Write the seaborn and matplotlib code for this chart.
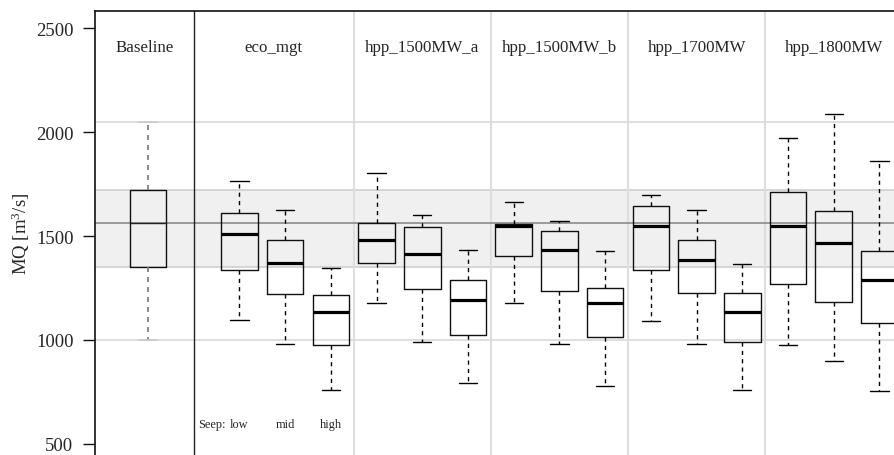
import matplotlib
matplotlib.use("Agg")
import matplotlib.pyplot as plt
import seaborn as sns
import numpy as np
import pandas as pd

# ---- data (five-number summaries: whisker low, Q1, median, Q3, whisker high) ----
groups = ["Baseline", "eco_mgt", "hpp_1500MW_a", "hpp_1500MW_b", "hpp_1700MW", "hpp_1800MW"]
seep_levels = ["low", "mid", "high"]

baseline = [998, 1349, 1561, 1720, 2050]

eco_mgt_low = [1095, 1335, 1508, 1612, 1766]
eco_mgt_mid = [982, 1223, 1369, 1479, 1627]
eco_mgt_high = [761, 978, 1135, 1218, 1346]

hpp_1500a_low = [1179, 1369, 1481, 1562, 1803]
hpp_1500a_mid = [992, 1244, 1415, 1542, 1599]
hpp_1500a_high = [793, 1024, 1194, 1287, 1433]

hpp_1500b_low = [1179, 1404, 1547, 1556, 1662]
hpp_1500b_mid = [982, 1237, 1433, 1522, 1572]
hpp_1500b_high = [779, 1013, 1178, 1248, 1428]

hpp_1700_low = [1093, 1338, 1547, 1646, 1697]
hpp_1700_mid = [981, 1227, 1385, 1482, 1623]
hpp_1700_high = [761, 990, 1135, 1226, 1365]

hpp_1800_low = [976, 1268, 1550, 1710, 1973]
hpp_1800_mid = [899, 1184, 1466, 1622, 2087]
hpp_1800_high = [756, 1083, 1287, 1426, 1859]

y_ticks = [500, 1000, 1500, 2000, 2500]
y_label = "MQ [m$^3$/s]"

scenario_boxes = [
    [eco_mgt_low, eco_mgt_mid, eco_mgt_high],
    [hpp_1500a_low, hpp_1500a_mid, hpp_1500a_high],
    [hpp_1500b_low, hpp_1500b_mid, hpp_1500b_high],
    [hpp_1700_low, hpp_1700_mid, hpp_1700_high],
    [hpp_1800_low, hpp_1800_mid, hpp_1800_high],
]

# ---- build tables ----
base_df = pd.DataFrame({"pos": [0] * len(baseline), "MQ": baseline})
rows = []
pos = 2
group_pos = []
for g in scenario_boxes:
    ps = []
    for box in g:
        for v in box:
            rows.append({"pos": pos, "MQ": v})
        ps.append(pos)
        pos += 1
    group_pos.append(ps)
scen_df = pd.DataFrame(rows)

# ---- style ----
sns.set_theme(style="white")
plt.rcParams["font.family"] = ["Liberation Serif", "DejaVu Serif"]
plt.rcParams["mathtext.default"] = "regular"

fig = plt.figure(figsize=(8.94, 4.56), dpi=100)
ax = fig.add_axes([95 / 894, 0, 1 - 95 / 894, 444 / 456])

xlim = (-1.16, 16.32)
ylim = (447, 2582)

# reference band / lines from baseline stats
ax.axhspan(baseline[1], baseline[3], color="#f0f0f0", zorder=0, lw=0)
for v in (baseline[1], baseline[3]):
    ax.axhline(v, color="#cfcfcf", lw=1.2, zorder=0.5)
for v in (baseline[0], baseline[4]):
    ax.axhline(v, color="#d9d9d9", lw=1.2, zorder=0.5)
ax.axhline(baseline[2], color="#8a8a8a", lw=1.2, zorder=0.6)

# separators
ax.axvline(1, color="#222222", lw=1.0, zorder=0.7)
for ps in group_pos[1:]:
    ax.axvline(ps[0] - 0.5, color="#dedede", lw=1.5, zorder=0.5)

dash = (0, (3, 3))
sns.boxplot(data=base_df, x="pos", y="MQ", native_scale=True, ax=ax,
            fill=False, color="#111111", width=0.8, whis=(0, 100), linewidth=1.0,
            medianprops=dict(color="#222222", linewidth=1.0),
            whiskerprops=dict(color="#777777", linestyle=dash, linewidth=1.2),
            capprops=dict(color="#c8c8c8", linewidth=1.2),
            boxprops=dict(color="#111111", linewidth=1.0))

sns.boxplot(data=scen_df, x="pos", y="MQ", native_scale=True, ax=ax,
            fill=False, color="#111111", width=0.8, whis=(0, 100), linewidth=1.0,
            medianprops=dict(color="black", linewidth=2.3),
            whiskerprops=dict(color="black", linestyle=dash, linewidth=1.0),
            capprops=dict(color="black", linewidth=1.0),
            boxprops=dict(color="#111111", linewidth=1.0))

ax.set_xlim(*xlim)
ax.set_ylim(*ylim)
ax.set_xticks([])
ax.set_xlabel("")
ax.set_yticks(y_ticks)
ax.set_yticklabels([str(t) for t in y_ticks], fontsize=13.5)
ax.tick_params(axis="y", direction="out", length=8.5, width=1.0, pad=7, left=True, color="#111111")
ax.set_ylabel(y_label, fontsize=13.5)
ax.yaxis.set_label_coords(-0.079, 0.5)

for side in ("right", "bottom"):
    ax.spines[side].set_visible(False)
for side in ("left", "top"):
    ax.spines[side].set_visible(True)
    ax.spines[side].set_color("#111111")
    ax.spines[side].set_linewidth(1.2)

# group labels
edges = [xlim[0], 1] + [ps[0] - 0.5 for ps in group_pos[1:]] + [group_pos[-1][-1] + 0.5]
for i, g in enumerate(groups):
    cx = (edges[i] + edges[i + 1]) / 2
    ax.text(cx, 2410, g, ha="center", va="center", fontsize=12.2)

# seep labels
ax.text(1.09, 596, "Seep:", ha="left", va="center", fontsize=8.8)
for p, s in zip(group_pos[0], seep_levels):
    ax.text(p, 596, s, ha="center", va="center", fontsize=8.8)

fig.savefig("out.png", dpi=100)
